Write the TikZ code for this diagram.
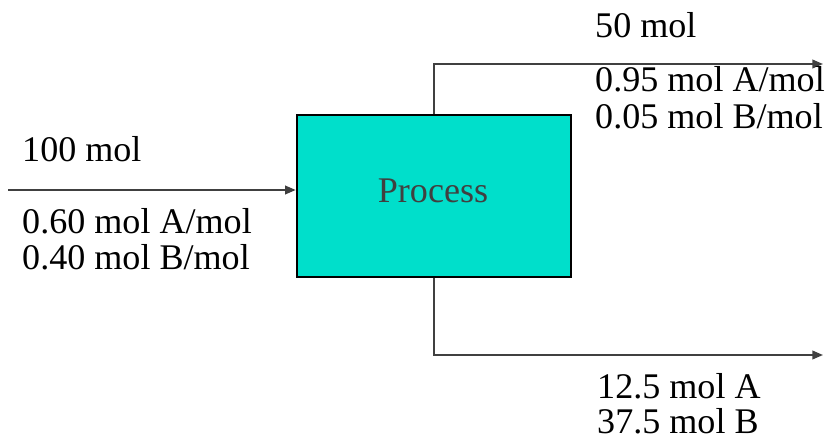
\documentclass[tikz,border=0pt]{standalone}
\usepackage{fontspec}
\setmainfont{Liberation Serif}
\usetikzlibrary{arrows.meta}
\definecolor{procfill}{HTML}{00DFCB}
\definecolor{linegray}{HTML}{404040}
\tikzset{
  stream/.style={draw=linegray, line width=1.5pt, -{Triangle[length=0.32cm,width=0.26cm]}},
  lbl/.style={anchor=base west, inner sep=0pt, font=\fontsize{30.8}{36}\selectfont}
}
\begin{document}
\begin{tikzpicture}[x=0.03cm, y=-0.03cm]
  \useasboundingbox (0,0) rectangle (827,445);

  % Ana kutu
  \node[draw=black, line width=2.2pt, fill=procfill, minimum width=274*0.03cm,
        minimum height=162*0.03cm, inner sep=0pt] (proc) at (434,196) {};
  \node[lbl, anchor=base, text=linegray] (proctxt) at (433,202) {Process};

  % Besleme (sol)
  \coordinate (feed) at (8,190);
  \draw[stream] (feed) -- (feed -| proc.west);
  \node[lbl] (fn) at (22,161) {100 mol};
  \node[lbl] (fa) at (22,233) {0.60 mol A/mol};
  \node[lbl] (fb) at (22,269) {0.40 mol B/mol};

  % Üst çıkış
  \coordinate (topout) at (823,64);
  \draw[stream] (proc.north) |- (topout);
  \node[lbl] (tn) at (595,37) {50 mol};
  \node[lbl] (ta) at (595,91) {0.95 mol A/mol};
  \node[lbl] (tb) at (595,128) {0.05 mol B/mol};

  % Alt çıkış
  \coordinate (botout) at (823,355);
  \draw[stream] (proc.south) |- (botout);
  \node[lbl] (ba) at (597,398) {12.5 mol A};
  \node[lbl] (bb) at (597,433) {37.5 mol B};
\end{tikzpicture}
\end{document}
